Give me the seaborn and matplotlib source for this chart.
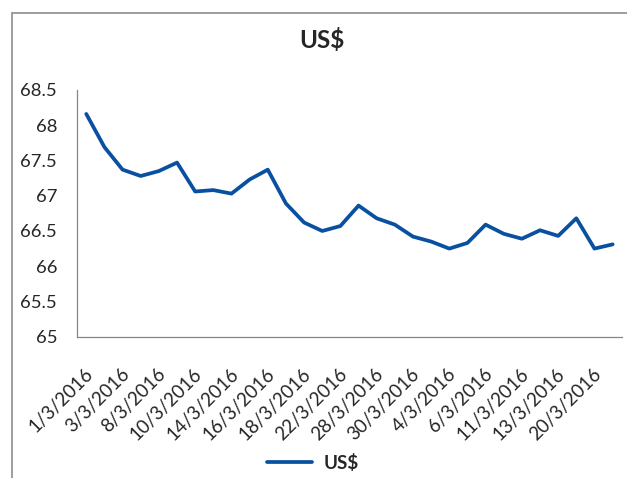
import matplotlib
matplotlib.use("Agg")
import matplotlib.pyplot as plt
import matplotlib.transforms as mtransforms
from matplotlib.patches import Rectangle
import seaborn as sns
import pandas as pd
import numpy as np

# ---- data ----
values = [68.16, 67.69, 67.37, 67.28, 67.35, 67.47, 67.06, 67.08, 67.03, 67.23,
          67.37, 66.89, 66.62, 66.50, 66.57, 66.86, 66.68, 66.59, 66.42, 66.35,
          66.25, 66.33, 66.59, 66.46, 66.39, 66.51, 66.43, 66.68, 66.25, 66.31]
tick_labels = ["1/3/2016", "3/3/2016", "8/3/2016", "10/3/2016", "14/3/2016",
               "16/3/2016", "18/3/2016", "22/3/2016", "28/3/2016", "30/3/2016",
               "4/3/2016", "6/3/2016", "11/3/2016", "13/3/2016", "20/3/2016"]
y_ticks = [65, 65.5, 66, 66.5, 67, 67.5, 68, 68.5]
series_name = "US$"

df = pd.DataFrame({"idx": np.arange(len(values)), "value": values,
                   "series": series_name})

sns.set_style("white")
plt.rcParams["font.family"] = ["Lato", "DejaVu Sans"]

LINE = "#0A50A0"
AX = "#868686"

fig = plt.figure(figsize=(6.27, 4.78), dpi=100)
W, H = 627, 478
ax = fig.add_axes([77.2 / W, 1 - 336.7 / H, (621.7 - 77.2) / W, (336.7 - 90) / H])

sns.lineplot(data=df, x="idx", y="value", hue="series", palette=[LINE],
             linewidth=2.7, ax=ax, legend=True)

n = len(values)
ax.set_xlim(-0.5, n - 0.5)
ax.set_ylim(65, 68.5)
ax.set_yticks(y_ticks)
ax.set_yticklabels([("%g" % v) for v in y_ticks])

ax.set_xticks(np.arange(n + 1) - 0.5)
ax.set_xticklabels([])
ax.set_xticks(np.arange(0, n, 2), minor=True)
ax.set_xticklabels(tick_labels, minor=True, rotation=45, ha="right",
                   va="center", rotation_mode="anchor", fontsize=13.5)
ax.tick_params(axis="x", which="minor", length=0, pad=25)
ax.tick_params(axis="x", which="major", length=4.5, width=0.9, color=AX,
               direction="out")
ax.tick_params(axis="y", length=4.5, width=0.9, color=AX, direction="out",
               labelsize=13.3, pad=10)
off = mtransforms.ScaledTranslation(4 / 100, 0, fig.dpi_scale_trans)
for lab in ax.get_xticklabels(minor=True):
    lab.set_transform(lab.get_transform() + off)

ax.set_xlabel("")
ax.set_ylabel("")
for s in ["top", "right"]:
    ax.spines[s].set_visible(False)
for s in ["left", "bottom"]:
    ax.spines[s].set_color(AX)
    ax.spines[s].set_linewidth(0.9)
ax.grid(False)

fig.text(321.5 / W, 1 - 40 / H, "US$", ha="center", va="center",
         fontsize=17.5, fontweight="bold")

handles, labels = ax.get_legend_handles_labels()
leg = ax.legend(handles, labels, loc="center", bbox_to_anchor=(313 / W, 1 - 463 / H),
                bbox_transform=fig.transFigure, frameon=False,
                handlelength=2.4, handletextpad=0.6,
                prop={"weight": "bold", "size": 13.5})
for lh in leg.get_lines():
    lh.set_linewidth(2.7)

fig.patches.append(Rectangle((12 / W, -0.1), 1.2, 1 - 13 / H + 0.1,
                             transform=fig.transFigure, fill=False,
                             edgecolor="#8C8C8C", linewidth=1.2))

fig.savefig("out.png", dpi=100)
